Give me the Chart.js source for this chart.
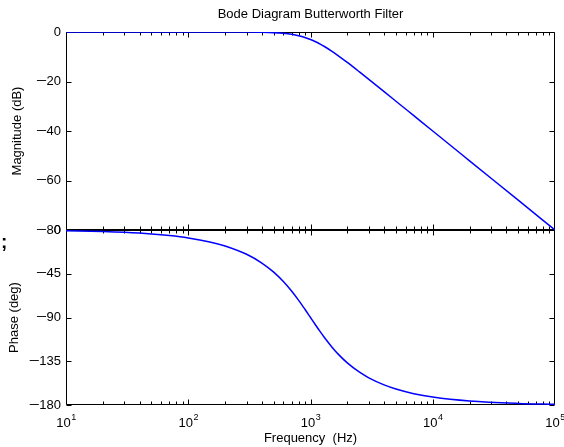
<!DOCTYPE html>
<html>
<head>
<meta charset="utf-8">
<script src="https://cdn.jsdelivr.net/npm/chart.js@4/dist/chart.umd.min.js"></script>
<style>
html,body{margin:0;padding:0;background:#fff;}
#wrap{position:relative;width:564px;height:447px;overflow:hidden;}
#wrap canvas{position:absolute;left:0;top:0;}
#semi{position:absolute;left:1px;top:231px;font:bold 19px "Liberation Sans",Arial,sans-serif;color:#000;}
</style>
</head>
<body>
<div id="wrap">
<canvas id="mag" width="564" height="447"></canvas>
<canvas id="phase" width="564" height="447"></canvas>
<div id="semi">;</div>
</div>
<script>
// Data
const freqHz = [10,20,30,50,70,100,150,200,300,400,500,600,700,800,900,1000,1100,1200,1300,1500,1700,2000,2500,3000,4000,5000,7000,10000,20000,50000,100000];
const magnitudeDb = [0,0,0,0,0,0,-0.002,-0.007,-0.035,-0.11,-0.26,-0.53,-0.93,-1.49,-2.19,-3.01,-3.92,-4.88,-5.86,-7.83,-9.71,-12.30,-16.03,-19.14,-24.10,-27.97,-33.81,-40.00,-52.04,-67.96,-80.00];
const phaseDeg = [-0.81,-1.62,-2.43,-4.05,-5.68,-8.13,-12.24,-16.42,-24.99,-33.96,-43.31,-52.97,-62.76,-72.35,-81.51,-90,-97.69,-104.54,-110.57,-120.51,-128.17,-136.69,-146.04,-152.06,-159.34,-163.58,-168.35,-171.87,-175.95,-178.38,-179.19];
const magTicks = [0,-20,-40,-60,-80];
const phaseTicks = [0,-45,-90,-135,-180];
const decadeTicks = [10,100,1000,10000,100000];
const decadeExponents = ['1','2','3','4','5'];
const titleText = 'Bode Diagram Butterworth Filter';
const magLabel = 'Magnitude (dB)';
const phaseLabel = 'Phase (deg)';
const freqLabel = 'Frequency  (Hz)';

const FONT = '"Liberation Sans", Arial, Helvetica, sans-serif';
const FS = 13;
Chart.defaults.font.family = FONT;
Chart.defaults.font.size = FS;
Chart.defaults.color = '#000';

function framePlugin(yTickVals, drawXLabels){
  return {
    id: 'frame',
    beforeDatasetsDraw(chart){
      const ctx = chart.ctx, a = chart.chartArea;
      const xs = chart.scales.x, ys = chart.scales.y;
      const L = Math.round(a.left)+0.5, R = Math.round(a.right)-0.5;
      const T = Math.round(a.top)+0.5, B = Math.round(a.bottom)-0.5;
      ctx.save();
      ctx.strokeStyle = '#000';
      ctx.lineWidth = 1;
      ctx.beginPath();
      ctx.rect(L, T, R-L, B-T);
      yTickVals.forEach(v=>{
        const y = Math.round(ys.getPixelForValue(v))+0.5;
        ctx.moveTo(L, y); ctx.lineTo(L+5, y);
        ctx.moveTo(R, y); ctx.lineTo(R-5, y);
      });
      for (let d=10; d<100000; d*=10){
        for (let m=1; m<10; m++){
          const v = d*m;
          const x = Math.round(xs.getPixelForValue(v))+0.5;
          const len = m===1 ? 5 : 3;
          ctx.moveTo(x, T); ctx.lineTo(x, T+len);
          ctx.moveTo(x, B); ctx.lineTo(x, B-len);
        }
      }
      ctx.stroke();
      ctx.restore();
    },
    afterDraw(chart){
      const ctx = chart.ctx, xs = chart.scales.x, ys = chart.scales.y;
      ctx.save();
      ctx.fillStyle = '#000';
      // y tick labels (MATLAB-style long minus)
      ctx.font = FS + 'px ' + FONT;
      ctx.textBaseline = 'middle';
      const xr = chart.chartArea.left - 5;
      yTickVals.forEach(v=>{
        const y = ys.getPixelForValue(v);
        const digits = String(Math.abs(v));
        ctx.textAlign = 'right';
        ctx.fillText(digits, xr, y);
        if (v < 0) {
          const wd = ctx.measureText(digits).width;
          ctx.save();
          ctx.translate(xr - wd + 0.5, y);
          ctx.scale(1.45, 1);
          ctx.fillText('\u2212', 0, 0);
          ctx.restore();
        }
      });
      if (drawXLabels) {
        ctx.textBaseline = 'alphabetic';
        ctx.textAlign = 'left';
        decadeTicks.forEach((v,i)=>{
          const x = xs.getPixelForValue(v);
          ctx.font = FS + 'px ' + FONT;
          const w1 = ctx.measureText('10').width;
          ctx.font = '9px ' + FONT;
          const w2 = ctx.measureText(decadeExponents[i]).width;
          const x0 = x - (w1+w2)/2;
          ctx.font = FS + 'px ' + FONT;
          ctx.fillText('10', x0, 427);
          ctx.font = '9px ' + FONT;
          ctx.fillText(decadeExponents[i], x0 + w1 + 0.5, 420);
        });
      }
      ctx.restore();
    }
  };
}

const lineStyle = {borderColor:'#0000ff', borderWidth:1.5, pointRadius:0, fill:false, cubicInterpolationMode:'monotone'};

new Chart(document.getElementById('mag'), {
  type:'line',
  data:{datasets:[Object.assign({data: freqHz.map((f,i)=>({x:f, y:magnitudeDb[i]}))}, lineStyle)]},
  options:{
    responsive:false, animation:false, events:[],
    layout:{padding:{left:0, right:9, top:0, bottom:217}},
    plugins:{
      legend:{display:false}, tooltip:{enabled:false},
      title:{display:true, fullSize:false, text:titleText, color:'#000', font:{size:FS, weight:'normal', family:FONT, lineHeight:1.2}, padding:{top:6.2, bottom:10.2}}
    },
    scales:{
      x:{type:'logarithmic', min:10, max:100000, display:false},
      y:{min:-80, max:0,
         afterBuildTicks: s => { s.ticks = magTicks.map(v=>({value:v})); },
         afterFit: s => { s.width = 66; },
         grid:{display:false, drawTicks:false}, border:{display:false},
         ticks:{display:false},
         title:{display:true, text:magLabel, color:'#000', font:{size:FS, lineHeight:1.2}, padding:{top:9.2, bottom:0}}
      }
    }
  },
  plugins:[framePlugin(magTicks, false)]
});

new Chart(document.getElementById('phase'), {
  type:'line',
  data:{datasets:[Object.assign({data: freqHz.map((f,i)=>({x:f, y:phaseDeg[i]}))}, lineStyle)]},
  options:{
    responsive:false, animation:false, events:[],
    layout:{padding:{left:0, right:9, top:230, bottom:0}},
    plugins:{legend:{display:false}, tooltip:{enabled:false}, title:{display:false}},
    scales:{
      x:{type:'logarithmic', min:10, max:100000,
         afterFit: s => { s.height = 42; },
         grid:{display:false, drawTicks:false}, border:{display:false},
         ticks:{display:false},
         title:{display:true, text:freqLabel, color:'#000', font:{size:FS, lineHeight:1.2}, padding:{top:0, bottom:1.2}}
      },
      y:{min:-180, max:0,
         afterBuildTicks: s => { s.ticks = phaseTicks.map(v=>({value:v})); },
         afterFit: s => { s.width = 66; },
         grid:{display:false, drawTicks:false}, border:{display:false},
         ticks:{display:false},
         title:{display:true, text:phaseLabel, color:'#000', font:{size:FS, lineHeight:1.2}, padding:{top:6.2, bottom:0}}
      }
    }
  },
  plugins:[framePlugin(phaseTicks, true)]
});
</script>
</body>
</html>
